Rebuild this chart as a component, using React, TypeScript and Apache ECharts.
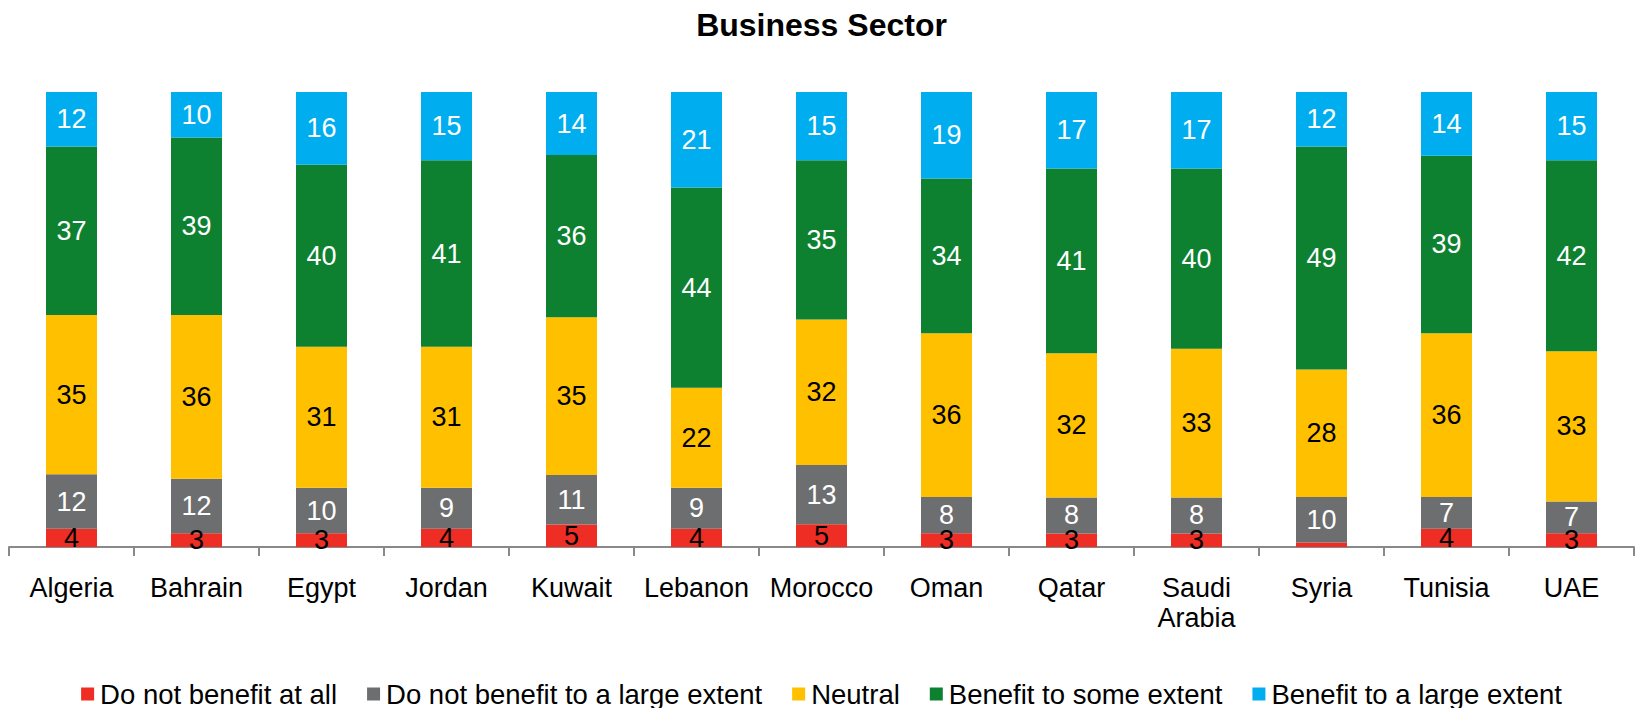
import React, { useEffect, useRef } from "react";
import * as echarts from "echarts";

const title = "Business Sector";
const categories = [
  "Algeria", "Bahrain", "Egypt", "Jordan", "Kuwait", "Lebanon", "Morocco",
  "Oman", "Qatar", "Saudi Arabia", "Syria", "Tunisia", "UAE",
];
const seriesNames = [
  "Do not benefit at all",
  "Do not benefit to a large extent",
  "Neutral",
  "Benefit to some extent",
  "Benefit to a large extent",
];
const notAtAll = [4, 3, 3, 4, 5, 4, 5, 3, 3, 3, 1, 4, 3];
const notLarge = [12, 12, 10, 9, 11, 9, 13, 8, 8, 8, 10, 7, 7];
const neutral = [35, 36, 31, 31, 35, 22, 32, 36, 32, 33, 28, 36, 33];
const someExtent = [37, 39, 40, 41, 36, 44, 35, 34, 41, 40, 49, 39, 42];
const largeExtent = [12, 10, 16, 15, 14, 21, 15, 19, 17, 17, 12, 14, 15];
const colors = ["#EE2D24", "#6D6E70", "#FFC000", "#0E8131", "#00AEEF"];
const labelColors = ["#000000", "#ffffff", "#000000", "#ffffff", "#ffffff"];

const FONT = "'Liberation Sans', Arial, Helvetica, sans-serif";

export default function App() {
  const ref = useRef<HTMLDivElement>(null);
  useEffect(() => {
    if (!ref.current) return;
    const chart = echarts.init(ref.current, undefined, { renderer: "svg" });
    const raw = [notAtAll, notLarge, neutral, someExtent, largeExtent];
    const totals = categories.map((_, i) => raw.reduce((s, arr) => s + arr[i], 0));
    const series = raw.map((arr, si) => ({
      name: seriesNames[si],
      type: "bar",
      stack: "total",
      barWidth: 51,
      itemStyle: { color: colors[si] },
      label: {
        show: true,
        position: "inside",
        color: labelColors[si],
        fontSize: 27,
        fontFamily: FONT,
        formatter: (p: any) => String(arr[p.dataIndex]),
      },
      data: arr.map((v, i) => ({
        value: (v / totals[i]) * 100,
        label: { show: v >= 2 },
      })),
    }));
    chart.setOption({
      animation: false,
      color: colors,
      title: {
        text: title,
        left: "center",
        top: 4,
        textStyle: {
          fontSize: 32,
          fontWeight: "bold",
          color: "#000",
          fontFamily: FONT,
          lineHeight: 32,
        },
      },
      legend: {
        data: seriesNames,
        left: "center",
        top: 675,
        icon: "rect",
        itemWidth: 13,
        itemHeight: 13,
        itemGap: 30,
        textStyle: {
          fontSize: 27.5,
          lineHeight: 27,
          color: "#000",
          fontFamily: FONT,
          padding: [0, 0, 0, 1],
        },
      },
      grid: { left: 9, right: 9, top: 92, bottom: 161, containLabel: false },
      xAxis: {
        type: "category",
        data: categories,
        axisLine: { lineStyle: { color: "#898989", width: 2 } },
        axisTick: { show: true, length: 9, lineStyle: { color: "#898989", width: 2 } },
        axisLabel: {
          interval: 0,
          margin: 26,
          fontSize: 27,
          lineHeight: 30,
          color: "#000",
          fontFamily: FONT,
          formatter: (v: string) => v.replace(" ", "\n"),
        },
      },
      yAxis: {
        type: "value",
        min: 0,
        max: 100,
        show: false,
        splitLine: { show: false },
      },
      series,
    });
    return () => chart.dispose();
  }, []);
  return (
    <div
      ref={ref}
      style={{ position: "fixed", left: 0, top: 0, width: 1643, height: 708, background: "#fff" }}
    />
  );
}
